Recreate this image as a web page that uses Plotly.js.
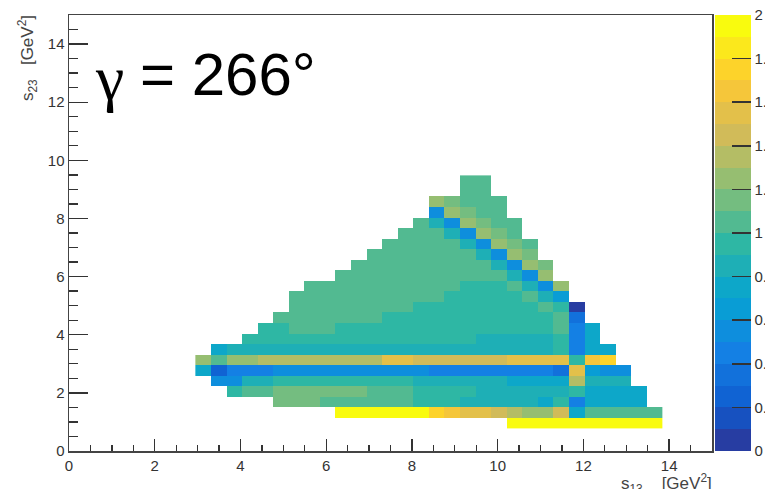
<!DOCTYPE html>
<html><head><meta charset="utf-8">
<script src="https://cdn.plot.ly/plotly-3.0.1.min.js"></script>
<style>html,body{margin:0;padding:0;background:#fff}#chart{width:765px;height:489px}</style>
</head><body><div id="chart"></div>
<script>
const _ = null;
// binning of the 2D histogram (GeV^2)
const binWidth = 0.363;
const s13FirstCenter = 3.1295;
const s23FirstCenter = 0.9515;

// bin contents, one array per s23 row (bottom row first), columns left to right
const row00 = [_,_,_,_,_,_,_,_,_,_,_,_,_,_,_,_,_,_,_,_,1.95,1.95,1.95,1.95,1.95,1.95,1.95,1.95,1.95,1.95];
const row01 = [_,_,_,_,_,_,_,_,_,1.95,1.95,1.95,1.95,1.95,1.95,1.75,1.65,1.55,1.55,1.45,1.35,1.25,1.25,1.45,0.75,1.05,1.05,1.05,1.05,1.05];
const row02 = [_,_,_,_,_,1.15,1.15,1.15,1.05,1.05,1.05,1.05,1.05,1.05,0.95,0.95,0.95,0.85,0.85,0.85,0.85,0.85,0.75,0.95,0.45,0.75,0.75,0.75,0.75,_];
const row03 = [_,_,0.95,1.05,1.05,1.15,1.15,1.15,1.15,1.15,1.15,1.05,1.05,1.05,0.95,0.95,0.95,0.95,0.85,0.85,0.85,0.85,0.85,0.85,0.95,0.75,0.75,0.75,0.75,_];
const row04 = [_,0.55,0.55,0.85,0.85,0.95,0.95,0.95,0.95,0.95,0.95,0.95,0.95,0.95,0.85,0.85,0.85,0.85,0.85,0.85,0.75,0.75,0.75,0.75,1.35,0.85,0.85,0.85,_,_];
const row05 = [0.75,0.25,0.45,0.45,0.45,0.55,0.55,0.55,0.55,0.55,0.55,0.55,0.55,0.55,0.55,0.45,0.45,0.45,0.45,0.45,0.45,0.45,0.45,0.35,1.55,0.65,0.55,0.55,_,_];
const row06 = [1.25,1.05,1.25,1.25,1.35,1.35,1.35,1.35,1.35,1.35,1.35,1.35,1.55,1.55,1.45,1.45,1.45,1.45,1.45,1.45,1.55,1.55,1.55,1.55,0.95,1.65,1.75,_,_,_];
const row07 = [_,0.75,0.85,0.85,0.85,0.85,0.85,0.85,0.85,0.85,0.85,0.85,0.85,0.85,0.85,0.85,0.85,0.85,0.85,0.85,0.85,0.85,0.85,0.95,0.45,0.75,0.75,_,_,_];
const row08 = [_,_,_,0.95,0.95,0.95,0.95,0.95,0.95,0.95,0.95,0.95,0.95,0.95,0.95,0.95,0.95,0.95,0.85,0.85,0.85,0.85,0.85,0.95,0.45,0.75,_,_,_,_];
const row09 = [_,_,_,_,0.95,0.95,1.05,1.05,1.05,0.95,0.95,0.95,0.95,0.95,0.95,0.95,0.95,0.95,0.95,0.95,0.95,0.95,0.95,1.05,0.45,0.75,_,_,_,_];
const row10 = [_,_,_,_,_,1.05,1.05,1.05,1.05,1.05,1.05,1.05,0.95,0.95,0.95,0.95,0.95,0.95,0.95,0.95,0.95,0.95,0.95,1.05,0.35,_,_,_,_,_];
const row11 = [_,_,_,_,_,_,1.05,1.05,1.05,1.05,1.05,1.05,1.05,1.05,0.95,0.95,0.95,0.95,0.95,0.95,0.95,0.95,1.05,0.95,0.05,_,_,_,_,_];
const row12 = [_,_,_,_,_,_,1.05,1.05,1.05,1.05,1.05,1.05,1.05,1.05,1.05,1.05,0.95,0.95,0.95,0.95,0.95,1.05,0.85,0.65,_,_,_,_,_,_];
const row13 = [_,_,_,_,_,_,_,1.05,1.05,1.05,1.05,1.05,1.05,1.05,1.05,1.05,1.05,0.95,0.95,0.95,1.05,0.85,0.55,1.25,_,_,_,_,_,_];
const row14 = [_,_,_,_,_,_,_,_,_,1.05,1.05,1.05,1.05,1.05,1.05,1.05,1.05,1.05,1.05,1.05,0.85,0.55,1.25,_,_,_,_,_,_,_];
const row15 = [_,_,_,_,_,_,_,_,_,_,1.05,1.05,1.05,1.05,1.05,1.05,1.05,1.05,1.05,0.85,0.55,1.25,1.15,_,_,_,_,_,_,_];
const row16 = [_,_,_,_,_,_,_,_,_,_,_,1.05,1.05,1.05,1.05,1.05,1.05,1.05,0.85,0.55,1.25,1.15,_,_,_,_,_,_,_,_];
const row17 = [_,_,_,_,_,_,_,_,_,_,_,_,1.05,1.05,1.05,1.05,1.05,0.85,0.55,1.25,1.15,1.05,_,_,_,_,_,_,_,_];
const row18 = [_,_,_,_,_,_,_,_,_,_,_,_,_,1.05,1.05,1.05,0.85,0.55,1.25,1.15,1.05,_,_,_,_,_,_,_,_,_];
const row19 = [_,_,_,_,_,_,_,_,_,_,_,_,_,_,1.05,0.85,0.55,1.25,1.15,1.05,1.05,_,_,_,_,_,_,_,_,_];
const row20 = [_,_,_,_,_,_,_,_,_,_,_,_,_,_,_,0.55,1.25,1.15,1.05,1.05,_,_,_,_,_,_,_,_,_,_];
const row21 = [_,_,_,_,_,_,_,_,_,_,_,_,_,_,_,1.25,1.15,1.05,1.05,1.05,_,_,_,_,_,_,_,_,_,_];
const row22 = [_,_,_,_,_,_,_,_,_,_,_,_,_,_,_,_,_,1.05,1.05,_,_,_,_,_,_,_,_,_,_,_];
const row23 = [_,_,_,_,_,_,_,_,_,_,_,_,_,_,_,_,_,1.05,1.05,_,_,_,_,_,_,_,_,_,_,_];

const axisTickVals = [0, 2, 4, 6, 8, 10, 12, 14];
const axisTickText = ['0', '2', '4', '6', '8', '10', '12', '14'];
const zTickVals = [0, 0.2, 0.4, 0.6, 0.8, 1, 1.2, 1.4, 1.6, 1.8, 2];
const zTickText = ['0', '0.2', '0.4', '0.6', '0.8', '1', '1.2', '1.4', '1.6', '1.8', '2'];
const labelText = '= 266°';

// ROOT kBird palette (style)
const birdStops = [0, 0.125, 0.25, 0.375, 0.5, 0.625, 0.75, 0.875, 1];
const birdR = [0.2082, 0.0592, 0.0780, 0.0232, 0.1802, 0.5301, 0.8186, 0.9956, 0.9764];
const birdG = [0.1664, 0.3599, 0.5041, 0.6419, 0.7178, 0.7492, 0.7328, 0.7862, 0.9832];
const birdB = [0.5293, 0.8111, 0.8952, 0.8182, 0.6425, 0.4662, 0.3499, 0.1968, 0.0539];
function bird(t) {
  let s = 0;
  while (s < birdStops.length - 2 && t > birdStops[s + 1]) s++;
  const f = (t - birdStops[s]) / (birdStops[s + 1] - birdStops[s]);
  const c = a => Math.round(255 * (a[s] + (a[s + 1] - a[s]) * f));
  return 'rgb(' + c(birdR) + ',' + c(birdG) + ',' + c(birdB) + ')';
}
const nLevels = 20;
const colorscale = [];
for (let k = 0; k < nLevels; k++) {
  const t = Math.min(1, Math.floor((k + 0.99) * 255 / nLevels) / 254);
  const col = bird(t);
  colorscale.push([k / nLevels, col], [(k + 1) / nLevels, col]);
}

const zRows = [row00,row01,row02,row03,row04,row05,row06,row07,row08,row09,row10,row11,
               row12,row13,row14,row15,row16,row17,row18,row19,row20,row21,row22,row23];

const W = 765, H = 489, ML = 69, MR = 53, MT = 15, MB = 38;
const PW = W - ML - MR, PH = H - MT - MB;
const px = x => (x - ML) / PW;
const py = y => (H - MB - y) / PH;
const FONT = 'Liberation Sans, Arial, Helvetica, sans-serif';
const INK = '#333';

const trace = {
  type: 'heatmap',
  z: zRows,
  x0: s13FirstCenter, dx: binWidth,
  y0: s23FirstCenter, dy: binWidth,
  zmin: 0, zmax: 2,
  zsmooth: false,
  colorscale: colorscale,
  hoverinfo: 'skip',
  colorbar: {
    thickness: 36, thicknessmode: 'pixels',
    len: 1, lenmode: 'fraction',
    x: px(715), xanchor: 'left', xpad: 0,
    y: 0.5, yanchor: 'middle', ypad: 0,
    outlinewidth: 0,
    tickmode: 'array', tickvals: zTickVals, ticktext: zTickText,
    ticks: 'inside', ticklen: 19, tickwidth: 1.5, tickcolor: INK,
    tickfont: {family: FONT, size: 15, color: INK}
  }
};

const axisCommon = {
  range: [0, 15],
  tickmode: 'array', tickvals: axisTickVals, ticktext: axisTickText,
  ticks: 'inside', tickwidth: 1.3, tickcolor: INK,
  showline: true, mirror: true, linecolor: '#444', linewidth: 1.5,
  showgrid: false, zeroline: false, fixedrange: true,
  tickfont: {family: FONT, size: 15, color: INK}
};

const layout = {
  width: W, height: H,
  margin: {l: ML, r: MR, t: MT, b: MB, pad: 0, autoexpand: false},
  paper_bgcolor: '#fff', plot_bgcolor: '#fff',
  font: {family: FONT, size: 15, color: INK},
  showlegend: false,
  xaxis: Object.assign({}, axisCommon, {
    ticklen: 12,
    minor: {tickmode: 'linear', tick0: 0, dtick: 0.5, ticks: 'inside', ticklen: 6, tickwidth: 1.3, tickcolor: INK}
  }),
  yaxis: Object.assign({}, axisCommon, {
    ticklen: 19,
    minor: {tickmode: 'linear', tick0: 0, dtick: 0.5, ticks: 'inside', ticklen: 9, tickwidth: 1.3, tickcolor: INK}
  }),
  annotations: [
    {text: 'γ', xref: 'paper', yref: 'paper', x: px(93), y: py(78), xanchor: 'left', yanchor: 'middle',
     showarrow: false, font: {family: 'Liberation Serif, DejaVu Serif, serif', size: 64, color: '#000'}},
    {text: labelText, xref: 'paper', yref: 'paper', x: px(138), y: py(74), xanchor: 'left', yanchor: 'middle',
     showarrow: false, font: {family: FONT, size: 60, color: '#000'}},
    {text: 's<sub>23</sub>\u00a0\u00a0\u00a0[GeV<sup>2</sup>]', xref: 'paper', yref: 'paper', x: px(28), y: py(13),
     xanchor: 'center', yanchor: 'top', textangle: -90, showarrow: false,
     font: {family: FONT, size: 17, color: '#444'}},
    {text: 's<sub>13</sub>\u00a0\u00a0\u00a0\u00a0[GeV<sup>2</sup>]', xref: 'paper', yref: 'paper', x: px(714), y: py(469),
     xanchor: 'right', yanchor: 'top', showarrow: false,
     font: {family: FONT, size: 17, color: '#444'}}
  ]
};

Plotly.newPlot('chart', [trace], layout, {staticPlot: true, displayModeBar: false});
</script>
</body></html>
